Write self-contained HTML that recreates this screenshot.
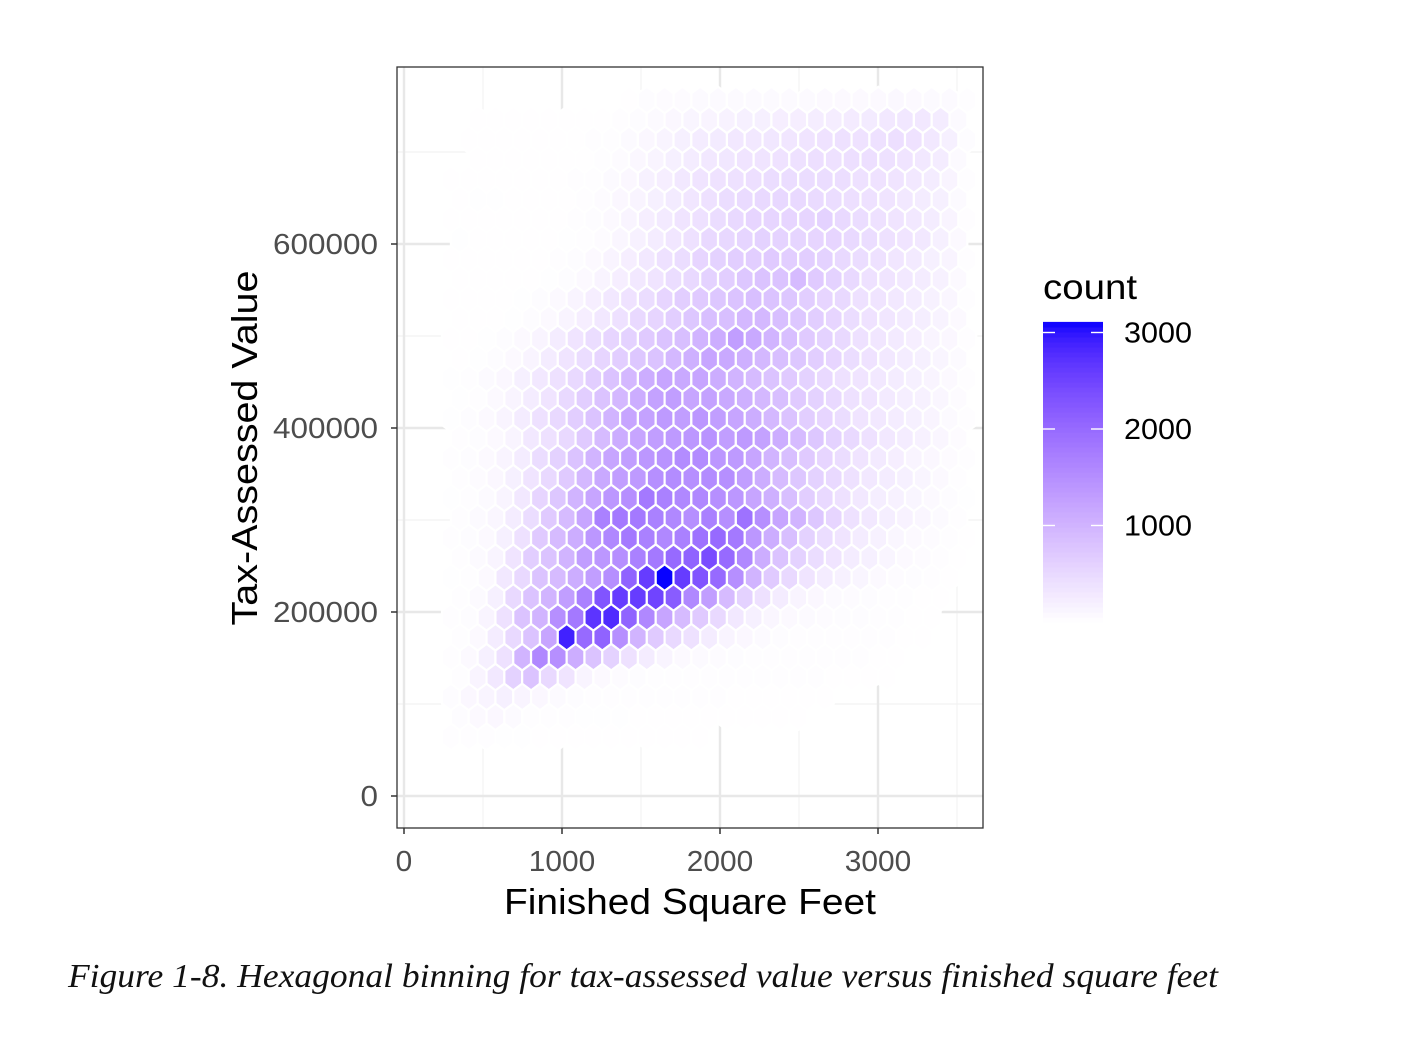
<!DOCTYPE html>
<html><head><meta charset="utf-8">
<style>
html,body{margin:0;padding:0;background:#fff;}
svg{display:block;}
text{font-family:"Liberation Sans",sans-serif;}
</style></head>
<body>
<svg id="chart" width="1404" height="1038" viewBox="0 0 1404 1038">
  <g id="grid"></g>
  <g id="hexes"></g>
  <rect x="397" y="67" width="586" height="761" fill="none" stroke="#333" stroke-width="1.3"/>
  <g id="axes"></g>
  <text x="0" y="0" transform="translate(257,448) rotate(-90)" text-anchor="middle" font-size="36" textLength="355" lengthAdjust="spacingAndGlyphs" fill="#000">Tax-Assessed Value</text>
  <text x="690" y="914" text-anchor="middle" font-size="36" textLength="372" lengthAdjust="spacingAndGlyphs" fill="#000">Finished Square Feet</text>
  <g id="legend">
    <text x="1043" y="299" font-size="35" textLength="94" lengthAdjust="spacingAndGlyphs" fill="#000">count</text>
  </g>
  <text x="68" y="987" font-size="34" font-style="italic" textLength="1150" lengthAdjust="spacingAndGlyphs" style="font-family:'Liberation Serif',serif" fill="#111">Figure 1-8. Hexagonal binning for tax-assessed value versus finished square feet</text>
</svg>
<script>
const xTicks = [0, 1000, 2000, 3000];
const xMinor = [500, 1500, 2500, 3500];
const yTicks = [0, 200000, 400000, 600000];
const yMinor = [100000, 300000, 500000, 700000];
const legendTicks = [1000, 2000, 3000];
const countMax = 3110;
const binX0 = 297, binDX = 112.7;
const binY0 = 756500, binDY = 21630;
const counts = [
[0,0,0,0,0,0,0,0,0,0,10,40,50,50,60,60,60,60,70,70,70,80,80,80,80,90,80,70,60,20],
[0,10,10,10,10,10,10,10,10,20,40,70,100,130,150,170,200,200,220,220,240,240,260,270,300,320,300,250,60,0],
[0,10,10,10,10,10,10,10,20,30,60,100,150,200,250,270,300,300,320,330,350,380,400,380,400,420,380,300,200,40],
[0,10,10,10,10,10,10,10,20,50,100,150,200,250,300,320,350,350,380,400,420,400,420,420,400,350,300,250,60,0],
[10,10,10,10,10,10,10,20,30,60,100,180,220,300,350,380,400,420,450,450,450,450,430,400,380,350,300,250,150,30],
[10,15,15,10,10,10,10,20,50,100,150,200,270,330,400,450,480,500,520,500,480,450,420,400,350,300,250,200,60,0],
[10,10,10,10,10,10,10,20,40,80,150,220,280,350,400,450,500,550,550,550,550,600,500,450,400,350,300,250,150,30],
[15,10,10,10,10,10,15,20,50,120,180,250,330,400,500,520,560,600,580,560,550,550,500,450,400,350,300,200,80,0],
[10,10,10,10,10,10,20,40,80,150,220,300,400,450,550,600,650,650,700,650,650,600,500,450,400,330,280,200,150,30],
[10,10,10,10,10,15,40,80,150,220,300,350,450,500,600,650,750,800,800,900,700,600,500,400,350,300,250,180,80,0],
[10,10,10,10,15,40,80,150,220,300,380,450,550,650,700,750,800,850,800,750,650,550,500,400,350,300,250,180,120,30],
[10,10,10,15,40,80,150,220,300,400,500,550,650,750,850,850,950,950,850,750,650,550,450,380,330,280,230,160,80,0],
[10,10,15,40,80,150,250,350,450,550,600,700,800,850,1000,1100,1300,1150,1000,850,700,600,500,400,330,280,220,150,100,20],
[10,15,40,80,150,250,350,450,550,650,750,800,950,1050,1200,1150,1050,950,850,750,650,550,450,380,300,250,200,130,60,0],
[15,30,60,100,200,300,400,500,650,800,950,1100,1200,1150,1200,1100,1000,900,800,700,600,500,400,350,300,250,200,150,80,20],
[15,30,80,150,250,350,500,650,800,950,1100,1250,1300,1200,1250,1150,1050,950,850,700,600,500,400,350,280,230,180,120,50,0],
[15,40,80,150,250,400,500,650,800,1000,1200,1250,1350,1300,1400,1300,1200,1100,950,800,650,550,450,350,300,250,200,150,60,20],
[20,40,80,150,300,400,500,700,900,1100,1200,1300,1350,1400,1450,1300,1350,1250,1100,900,750,600,500,400,300,250,180,120,50,0],
[20,40,80,150,250,450,600,800,1000,1200,1300,1400,1450,1550,1550,1400,1350,1200,1000,850,700,550,450,350,280,220,150,100,50,20],
[20,50,100,200,350,500,700,950,1150,1300,1350,1500,1550,1500,1550,1500,1300,1100,900,750,600,500,400,300,250,200,130,80,30,0],
[15,30,70,150,300,550,750,1000,1200,1400,1500,1800,1700,1600,1600,1500,1400,1200,1050,850,650,500,400,300,230,180,130,80,40,15],
[20,60,120,250,450,700,900,1200,1700,1800,1800,1700,1600,1500,1700,1500,1900,1500,1200,1000,750,550,400,300,230,170,120,70,20,0],
[20,40,80,200,400,700,900,1100,1400,1600,1800,1700,1600,1700,1900,2000,1800,1400,1100,850,600,450,350,250,180,120,80,50,20,10],
[30,60,150,350,650,800,1000,1300,1400,1500,1700,1800,2000,2100,2400,2000,1600,1100,800,600,450,350,250,200,130,80,50,30,10,0],
[15,30,80,300,500,800,900,1100,1300,1500,2100,2600,3100,2600,2300,2000,1500,1000,700,500,350,250,180,130,80,50,40,20,10,0],
[20,60,200,500,800,1000,1300,1700,2300,2600,2600,2500,2200,1600,1300,900,600,400,250,150,100,70,50,40,30,20,10,10,0,0],
[20,40,150,400,800,1000,1500,1800,2700,2800,2100,1600,1200,900,700,500,300,200,120,80,60,50,40,40,30,20,10,10,0,0],
[20,80,250,500,800,1200,2900,2000,2100,1500,1000,700,500,400,250,150,100,60,40,30,30,30,30,20,20,10,10,0,0,0],
[30,80,200,400,1000,1600,1500,1100,800,600,400,250,150,80,60,50,40,30,30,30,20,20,20,20,10,10,0,0,0,0],
[30,150,300,600,800,500,350,150,80,50,40,30,30,20,20,20,20,20,20,20,20,10,10,10,10,0,0,0,0,0],
[40,100,150,200,150,100,60,40,30,20,20,20,20,20,20,20,10,10,10,10,10,10,0,0,0,0,0,0,0,0],
[40,80,100,60,30,20,20,15,15,15,10,10,10,10,10,10,10,10,10,10,0,0,0,0,0,0,0,0,0,0],
[20,20,20,15,15,10,10,10,10,10,10,10,10,10,10,0,0,0,0,0,0,0,0,0,0,0,0,0,0,0]
];

const NS = "http://www.w3.org/2000/svg";
function sx(v){ return 404 + v * 0.158; }
function sy(v){ return 796 - v * 184 / 200000; }
function ly(v){ return 622 - v * 0.0965; }

function labToRgb(L,a,b){
  let fy=(L+16)/116, fx=fy+a/500, fz=fy-b/200;
  const f=t=>{const t3=t*t*t;return t3>0.008856?t3:(t-16/116)/7.787;};
  let X=0.95047*f(fx), Y=1.0*f(fy), Z=1.08883*f(fz);
  let r= 3.2406*X-1.5372*Y-0.4986*Z;
  let g=-0.9689*X+1.8758*Y+0.0415*Z;
  let bl=0.0557*X-0.2040*Y+1.0570*Z;
  const gm=c=>{c=c<=0.0031308?12.92*c:1.055*Math.pow(c,1/2.4)-0.055;return Math.round(Math.max(0,Math.min(1,c))*255);};
  return "rgb("+gm(r)+","+gm(g)+","+gm(bl)+")";
}
function fillFor(c){
  const t=Math.max(0,Math.min(1,c/countMax));
  return labToRgb(100+(32.3-100)*t, 79.19*t, -107.86*t);
}

const grid=document.getElementById("grid");
function line(x1,y1,x2,y2,stroke,w,name,parent){
  const l=document.createElementNS(NS,"line");
  l.setAttribute("x1",x1);l.setAttribute("y1",y1);l.setAttribute("x2",x2);l.setAttribute("y2",y2);
  l.setAttribute("stroke",stroke);l.setAttribute("stroke-width",w);
  
  
  parent.appendChild(l);
}
xMinor.forEach(v=>{ line(sx(v),67,sx(v),828,"#f2f2f2",1.2,"x-minor-gridline",grid); });
yMinor.forEach(v=>{ line(397,sy(v),983,sy(v),"#f2f2f2",1.2,"y-minor-gridline",grid); });
xTicks.forEach(v=>{ line(sx(v),67,sx(v),828,"#e8e8e8",2.4,"x-major-gridline",grid); });
yTicks.forEach(v=>{ line(397,sy(v),983,sy(v),"#e8e8e8",2.4,"y-major-gridline",grid); });

const hexG=document.getElementById("hexes");
const colW=0.158*binDX, rowH=binDY*184/200000;
const R=rowH/1.5, hw=colW/2;
counts.forEach((row,r)=>{
  row.forEach((c,k)=>{
    if(c<=0) return;
    const xv=binX0+binDX*k+(r%2?binDX/2:0);
    const yv=binY0-binDY*r;
    const cx=sx(xv), cy=sy(yv);
    if(cx>985) return;
    const pts=[[0,-R],[hw,-R/2],[hw,R/2],[0,R],[-hw,R/2],[-hw,-R/2]].map(p=>(cx+p[0]).toFixed(2)+","+(cy+p[1]).toFixed(2)).join(" ");
    const p=document.createElementNS(NS,"polygon");
    p.setAttribute("points",pts);
    p.setAttribute("fill",fillFor(c));
    p.setAttribute("stroke","#fff");
    p.setAttribute("stroke-width","2.2");
    
    
    hexG.appendChild(p);
  });
});

const axes=document.getElementById("axes");
function txt(x,y,s,anchor,size,fill,name,parent,tl){
  const t=document.createElementNS(NS,"text");
  t.setAttribute("x",x);t.setAttribute("y",y);t.setAttribute("text-anchor",anchor);
  t.setAttribute("font-size",size);t.setAttribute("fill",fill);
  if(tl){t.setAttribute("textLength",tl);t.setAttribute("lengthAdjust","spacingAndGlyphs");}
  t.textContent=s;
  
  
  parent.appendChild(t);
}
xTicks.forEach(v=>{
  line(sx(v),828,sx(v),834,"#333",1.5,"x-tick",axes);
  txt(sx(v),871,String(v),"middle",29,"#4d4d4d","x-tick-label",axes,String(v).length*16.6);
});
yTicks.forEach(v=>{
  line(391,sy(v),397,sy(v),"#333",1.5,"y-tick",axes);
  txt(378,sy(v)+10,String(v),"end",29,"#4d4d4d","y-tick-label",axes,String(v).length*17.5);
});

const leg=document.getElementById("legend");
const steps=60;
for(let i=0;i<steps;i++){
  const v0=countMax*i/steps, v1=countMax*(i+1)/steps;
  const r=document.createElementNS(NS,"rect");
  r.setAttribute("x",1043);r.setAttribute("width",60);
  r.setAttribute("y",ly(v1));r.setAttribute("height",ly(v0)-ly(v1)+0.6);
  r.setAttribute("fill",fillFor((v0+v1)/2));
  
  
  leg.appendChild(r);
}
legendTicks.forEach(v=>{
  line(1043,ly(v),1055,ly(v),"#fff",1.4,"colorbar-tick",leg);
  line(1091,ly(v),1103,ly(v),"#fff",1.4,"colorbar-tick",leg);
  txt(1124,ly(v)+10,String(v),"start",29,"#000","legend-label",leg,68);
});
</script>
</body></html>
